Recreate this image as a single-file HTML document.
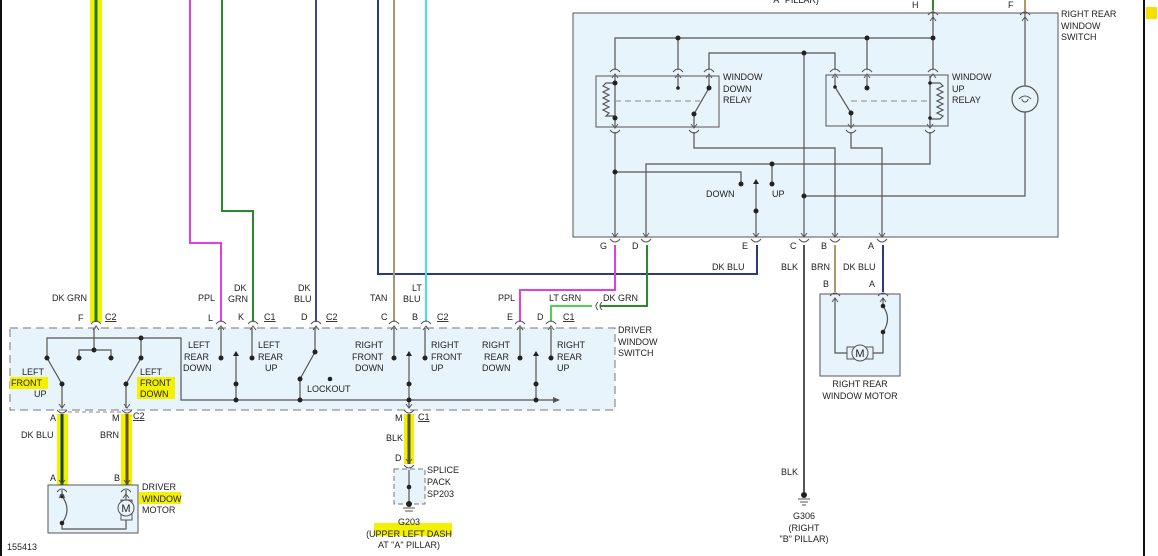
<!DOCTYPE html>
<html><head><meta charset="utf-8"><style>
html,body{margin:0;padding:0;background:#fff}
svg{display:block}
text{font-family:"Liberation Sans",sans-serif;font-size:9px;fill:#222}
</style></head><body>
<svg width="1158" height="556" viewBox="0 0 1158 556" xmlns="http://www.w3.org/2000/svg">
<defs>
<g id="pu"><path d="M-5,2 Q0,-4 5,2" fill="none" stroke="#555" stroke-width="1"/><path d="M-3,8 L0,4 L3,8" fill="none" stroke="#555" stroke-width="1"/></g>
<g id="pd"><path d="M-5,-2 Q0,4 5,-2" fill="none" stroke="#555" stroke-width="1"/><path d="M-3,-8 L0,-4 L3,-8" fill="none" stroke="#555" stroke-width="1"/></g>
</defs>
<!-- borders -->
<rect x="0" y="0" width="2" height="556" fill="#111"/>
<rect x="1143" y="0" width="2" height="556" fill="#111"/>
<rect x="1146" y="7" width="11" height="12" fill="#f5e000"/>
<text x="770" y="3">"A" PILLAR)</text>

<!-- highlights -->
<g fill="#f3f000">
<rect x="90" y="0" width="12" height="322"/>
<rect x="57" y="414" width="11" height="72"/>
<rect x="121" y="414" width="11" height="72"/>
<rect x="404" y="414" width="10" height="50"/>
<rect x="139" y="492" width="42" height="12"/>
<rect x="374" y="523" width="78" height="13"/>
</g>

<!-- right rear window switch box -->
<rect x="573" y="13" width="485" height="224" fill="#e8f4fb" stroke="#555" stroke-width="1"/>
<rect x="596" y="76" width="123" height="51" fill="#e8f4fb" stroke="#555"/>
<rect x="826" y="75" width="122" height="51" fill="#e8f4fb" stroke="#555"/>
<g fill="none" stroke="#555" stroke-width="1.2">
<path d="M615,70 V38 H933"/>
<path d="M678,38 V70"/><path d="M867,38 V70"/><path d="M933,0 V70"/>
<path d="M709,70 V53 H835 V70"/>
<path d="M804,53 V237"/>
<path d="M615,132 V237"/>
<path d="M615,172 H741 V184"/>
<path d="M694,132 V148 H835 V237"/>
<path d="M851,132 V148 H882 V237"/>
<path d="M930,132 V164 H646 V237"/>
<path d="M772,164 V184"/>
<path d="M756,180 V237"/>
<path d="M1025,0 V86 M1025,112 V196 H804"/>
<path d="M615,76 V127"/>
<path d="M615,83 H606 l-3,3 l6,3 l-6,3 l6,3 l-6,3 l6,3 l-6,3 l6,3 l-6,3 l6,3 l-3,3 H615"/>
<path d="M694,127 V114 L709,88 V76"/>
<path d="M678,76 V88"/>
<path d="M930,76 V126"/>
<path d="M930,83 H940 l3,3 l-6,3 l6,3 l-6,3 l6,3 l-6,3 l6,3 l-6,3 l6,3 l-6,3 l6,3 l-3,3 H930"/>
<path d="M835,76 V87 L851,113 V126"/>
<path d="M867,76 V88"/>
</g>
<path d="M615,101 H700 M851,101 H928" stroke="#888" stroke-dasharray="6,4" fill="none"/>
<circle cx="1025" cy="99" r="13" fill="none" stroke="#555" stroke-width="1.2"/>
<path d="M1019,99 Q1025,93 1031,99 M1022,99 a3,3 0 1,0 6,0" fill="none" stroke="#555"/>
<g fill="#222">
<circle cx="678" cy="38" r="2.5"/><circle cx="867" cy="38" r="2.5"/><circle cx="933" cy="38" r="2.5"/>
<circle cx="804" cy="53" r="2.5"/><circle cx="615" cy="83" r="2.5"/><circle cx="615" cy="118" r="2.5"/>
<circle cx="709" cy="88" r="2.5"/><circle cx="694" cy="114" r="2.5"/><circle cx="678" cy="88" r="1.8"/>
<circle cx="835" cy="87" r="1.8"/><circle cx="851" cy="113" r="2.5"/><circle cx="867" cy="88" r="2.5"/>
<circle cx="930" cy="83" r="1.8"/><circle cx="930" cy="118" r="1.8"/>
<circle cx="615" cy="172" r="2.5"/><circle cx="741" cy="184" r="2.5"/><circle cx="772" cy="164" r="2.5"/>
<circle cx="772" cy="184" r="2.5"/><circle cx="756" cy="211" r="2.5"/><circle cx="804" cy="196" r="2.5"/>
</g>
<path d="M753,184 L756,179 L759,184" fill="#222"/>
<g>
<use href="#pu" x="615" y="70"/><use href="#pu" x="678" y="70"/><use href="#pu" x="709" y="70"/>
<use href="#pu" x="835" y="70"/><use href="#pu" x="867" y="70"/><use href="#pu" x="933" y="70"/>
<use href="#pd" x="615" y="132"/><use href="#pd" x="694" y="132"/><use href="#pd" x="851" y="132"/><use href="#pd" x="930" y="132"/>
<use href="#pu" x="933" y="13"/><use href="#pu" x="1025" y="13"/>
<use href="#pd" x="615" y="241"/><use href="#pd" x="646" y="241"/><use href="#pd" x="756" y="241"/>
<use href="#pd" x="804" y="241"/><use href="#pd" x="835" y="241"/><use href="#pd" x="882" y="241"/>
</g>
<text x="723" y="80">WINDOW</text><text x="723" y="92">DOWN</text><text x="723" y="103">RELAY</text>
<text x="952" y="80">WINDOW</text><text x="952" y="92">UP</text><text x="952" y="103">RELAY</text>
<text x="706" y="197">DOWN</text><text x="772" y="197">UP</text>
<text x="1061" y="17">RIGHT REAR</text><text x="1061" y="29">WINDOW</text><text x="1061" y="40">SWITCH</text>
<text x="912" y="8">H</text><text x="1008" y="8">F</text>
<text x="600" y="249">G</text><text x="632" y="249">D</text><text x="742" y="249">E</text>
<text x="790" y="249">C</text><text x="821" y="249">B</text><text x="868" y="249">A</text>
<path d="M933,0 V10" stroke="#2a8a2a" stroke-width="2"/><path d="M1025,0 V10" stroke="#b09860" stroke-width="2"/>

<!-- wires top -->
<g fill="none" stroke-width="2">
<path d="M96,0 V322" stroke="#1a7a1a" stroke-width="3"/>
<path d="M190,0 V243 H221 V322" stroke="#e040e0"/>
<path d="M222,0 V211 H253 V322" stroke="#2a8a2a"/>
<path d="M316,0 V322" stroke="#3a4a90"/>
<path d="M378,0 V274 H757 V245" stroke="#2a3a80"/>
<path d="M394,0 V322" stroke="#a09878"/>
<path d="M426,0 V322" stroke="#40e0f0"/>
<path d="M615,245 V290 H520 V322" stroke="#e040e0"/>
<path d="M647,245 V306 H600" stroke="#2a8a2a"/>
<path d="M592,306 H551 V322" stroke="#50d050"/>
<path d="M804,245 V492" stroke="#555"/>
<path d="M835,245 V292" stroke="#b09860"/>
<path d="M883,245 V292" stroke="#2a3a80"/>
<path d="M62,414 V486" stroke="#143" stroke-width="3"/>
<path d="M127,414 V486" stroke="#6a5010" stroke-width="3"/>
<path d="M409,414 V464" stroke="#554" stroke-width="3"/>
</g>
<path d="M598,302 Q594,306 598,310 M602,302 Q598,306 602,310" fill="none" stroke="#555"/>
<text x="712" y="270">DK BLU</text><text x="781" y="270">BLK</text><text x="811" y="270">BRN</text><text x="843" y="270">DK BLU</text>
<text x="823" y="287">B</text><text x="869" y="287">A</text>

<!-- right rear motor -->
<rect x="820" y="294" width="80" height="82" fill="#e8f4fb" stroke="#555"/>
<use href="#pu" x="835" y="294"/><use href="#pu" x="883" y="294"/>
<path d="M835,298 V353 H847 M873,353 H883 V332 M883,306 Q892,319 883,332 M883,298 V306" fill="none" stroke="#555" stroke-width="1.2"/>
<rect x="847" y="347" width="26" height="12" fill="#e8f4fb" stroke="#555"/>
<circle cx="860" cy="353" r="8" fill="#e8f4fb" stroke="#555"/>
<text x="860" y="357" text-anchor="middle" style="font-size:11px">M</text>
<circle cx="883" cy="306" r="2.3" fill="#222"/><circle cx="883" cy="332" r="2.3" fill="#222"/>
<text x="860" y="387" text-anchor="middle">RIGHT REAR</text><text x="860" y="399" text-anchor="middle">WINDOW MOTOR</text>
<text x="781" y="475">BLK</text>
<circle cx="804" cy="495" r="3" fill="#222"/><path d="M798,499 H810 M800,502 H808 M802,505 H806" stroke="#555"/>
<text x="804" y="519" text-anchor="middle">G306</text><text x="804" y="531" text-anchor="middle">(RIGHT</text><text x="804" y="542" text-anchor="middle">"B" PILLAR)</text>

<!-- driver window switch -->
<rect x="10" y="328" width="605" height="82" fill="#e8f4fb" stroke="#777" stroke-dasharray="8,5"/>
<g fill="#f3f000">
<rect x="10" y="377" width="38" height="12"/>
<rect x="137" y="377" width="38" height="22"/>
</g>
<g fill="none" stroke="#555" stroke-width="1.2">
<path d="M47,358 V338 H181 V400 H555"/>
<path d="M94,328 V350 M79,358 V350 H111 V358"/>
<path d="M141,338 V358"/>
<path d="M47,358 L62,384 V408 M141,358 L126,384 V408"/>
<path d="M221,328 V358 M252,328 V358"/>
<path d="M236,352 V400"/>
<path d="M315,328 V352 L300,379 V400"/>
<path d="M394,328 V358 M425,328 V358"/>
<path d="M409,352 V408"/>
<path d="M520,328 V358 M551,328 V358"/>
<path d="M536,352 V400"/>
</g>
<path d="M553,397 L560,400 L553,403Z" fill="#555"/>
<g fill="#222">
<circle cx="47" cy="358" r="2.5"/><circle cx="79" cy="358" r="2.5"/><circle cx="111" cy="358" r="2.5"/><circle cx="94" cy="350" r="2.5"/>
<circle cx="141" cy="358" r="2.5"/><circle cx="141" cy="338" r="2.5"/><circle cx="62" cy="384" r="2.5"/><circle cx="126" cy="384" r="2.5"/>
<circle cx="221" cy="358" r="2.5"/><circle cx="252" cy="358" r="2.5"/><circle cx="236" cy="384" r="2.5"/><circle cx="236" cy="400" r="2.5"/>
<circle cx="315" cy="352" r="2.5"/><circle cx="300" cy="379" r="2.5"/><circle cx="300" cy="400" r="2.5"/><circle cx="330" cy="379" r="2.3"/>
<circle cx="394" cy="358" r="2.5"/><circle cx="425" cy="358" r="2.5"/><circle cx="409" cy="384" r="2.5"/><circle cx="409" cy="400" r="2.5"/>
<circle cx="520" cy="358" r="2.5"/><circle cx="551" cy="358" r="2.5"/><circle cx="536" cy="384" r="2.5"/><circle cx="536" cy="400" r="2.5"/>
<path d="M233,356 L236,351 L239,356Z"/><path d="M406,356 L409,351 L412,356Z"/><path d="M533,356 L536,351 L539,356Z"/>
</g>
<g>
<use href="#pu" x="96" y="322"/><use href="#pu" x="221" y="322"/><use href="#pu" x="253" y="322"/><use href="#pu" x="316" y="322"/>
<use href="#pu" x="394" y="322"/><use href="#pu" x="426" y="322"/><use href="#pu" x="520" y="322"/><use href="#pu" x="551" y="322"/>
<use href="#pd" x="62" y="412"/><use href="#pd" x="127" y="412"/><use href="#pd" x="409" y="412"/>
<use href="#pd" x="62" y="488"/><use href="#pd" x="127" y="488"/><use href="#pd" x="409" y="467"/>
</g>
<path d="M68,412 H121" stroke="#888" stroke-dasharray="4,3"/>
<text x="52" y="301">DK GRN</text><text x="198" y="301">PPL</text><text x="234" y="291">DK</text><text x="228" y="302">GRN</text>
<text x="298" y="291">DK</text><text x="294" y="302">BLU</text><text x="370" y="301">TAN</text><text x="412" y="291">LT</text><text x="403" y="302">BLU</text>
<text x="498" y="301">PPL</text><text x="549" y="301">LT GRN</text><text x="603" y="301">DK GRN</text>
<text x="78" y="321">F</text><text x="105" y="320" text-decoration="underline">C2</text>
<text x="208" y="321">L</text><text x="238" y="320">K</text><text x="264" y="320" text-decoration="underline">C1</text>
<text x="301" y="320">D</text><text x="326" y="320" text-decoration="underline">C2</text>
<text x="381" y="320">C</text><text x="412" y="320">B</text><text x="437" y="320" text-decoration="underline">C2</text>
<text x="507" y="320">E</text><text x="537" y="320">D</text><text x="563" y="320" text-decoration="underline">C1</text>
<text x="618" y="333">DRIVER</text><text x="618" y="345">WINDOW</text><text x="618" y="356">SWITCH</text>
<text x="22" y="375">LEFT</text><text x="11" y="386">FRONT</text><text x="34" y="397">UP</text>
<text x="140" y="375">LEFT</text><text x="140" y="386">FRONT</text><text x="140" y="397">DOWN</text>
<text x="188" y="348">LEFT</text><text x="184" y="360">REAR</text><text x="183" y="371">DOWN</text>
<text x="258" y="348">LEFT</text><text x="258" y="360">REAR</text><text x="265" y="371">UP</text>
<text x="307" y="392">LOCKOUT</text>
<text x="355" y="348">RIGHT</text><text x="352" y="360">FRONT</text><text x="355" y="371">DOWN</text>
<text x="431" y="348">RIGHT</text><text x="431" y="360">FRONT</text><text x="431" y="371">UP</text>
<text x="482" y="348">RIGHT</text><text x="484" y="360">REAR</text><text x="482" y="371">DOWN</text>
<text x="557" y="348">RIGHT</text><text x="557" y="360">REAR</text><text x="557" y="371">UP</text>

<!-- lower left -->
<text x="50" y="421">A</text><text x="21" y="438">DK BLU</text><text x="50" y="481">A</text>
<text x="112" y="421">M</text><text x="133" y="419" text-decoration="underline">C2</text><text x="100" y="438">BRN</text><text x="114" y="481">B</text>
<rect x="48" y="485" width="90" height="48" fill="#e8f4fb" stroke="#555"/>
<path d="M62,490 V496 M62,496 Q72,510 62,523 V529 H126 V520 M126,490 V500" fill="none" stroke="#555" stroke-width="1.2"/>
<circle cx="62" cy="496" r="2.3" fill="#222"/><circle cx="62" cy="523" r="2.3" fill="#222"/>
<rect x="121" y="500" width="11" height="20" fill="#e8f4fb" stroke="#555"/>
<circle cx="126" cy="508" r="8" fill="#e8f4fb" stroke="#555"/>
<text x="126" y="512" text-anchor="middle" style="font-size:11px">M</text>
<use href="#pu" x="62" y="490"/><use href="#pu" x="126" y="490"/>
<text x="142" y="490">DRIVER</text><text x="142" y="502">WINDOW</text><text x="142" y="513">MOTOR</text>
<text x="7" y="550">155413</text>

<!-- splice -->
<text x="395" y="421">M</text><text x="418" y="420" text-decoration="underline">C1</text>
<text x="386" y="441">BLK</text><text x="395" y="461">D</text>
<rect x="394" y="469" width="31" height="35" fill="#e8f4fb" stroke="#777" stroke-dasharray="5,3"/>
<path d="M409,470 V504" stroke="#555" stroke-width="1.2"/>
<circle cx="409" cy="487" r="2.3" fill="#222"/>
<circle cx="409" cy="504" r="3" fill="#222"/><path d="M403,508 H415 M405,511 H413" stroke="#555"/>
<text x="427" y="473">SPLICE</text><text x="427" y="485">PACK</text><text x="427" y="497">SP203</text>
<text x="409" y="525" text-anchor="middle">G203</text>
<text x="409" y="537" text-anchor="middle">(UPPER LEFT DASH</text>
<text x="409" y="548" text-anchor="middle">AT "A" PILLAR)</text>
</svg>
</body></html>
